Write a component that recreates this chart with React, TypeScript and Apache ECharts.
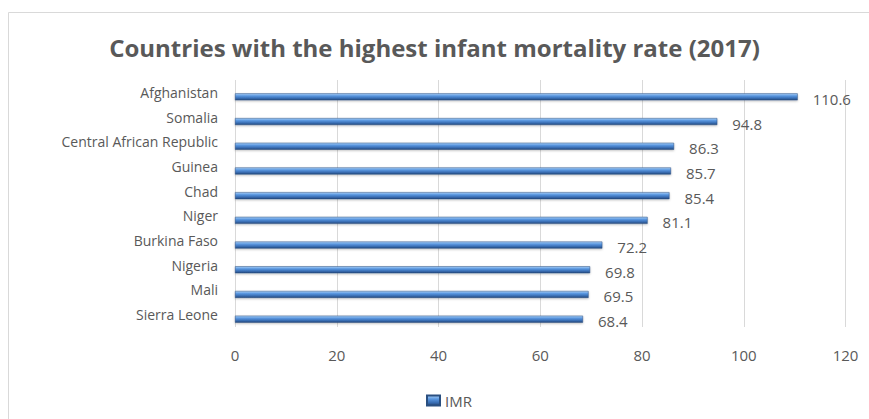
import React, { useEffect, useRef } from "react";
import * as echarts from "echarts";

const countries = [
  "Afghanistan",
  "Somalia",
  "Central African Republic",
  "Guinea",
  "Chad",
  "Niger",
  "Burkina Faso",
  "Nigeria",
  "Mali",
  "Sierra Leone",
];
const imrValues = [110.6, 94.8, 86.3, 85.7, 85.4, 81.1, 72.2, 69.8, 69.5, 68.4];
const seriesName = "IMR";
const titleText = "Countries with the highest infant mortality rate (2017)";
const xMin = 0;
const xMax = 120;
const xStep = 20;

export default function App() {
  const ref = useRef<HTMLDivElement>(null);
  useEffect(() => {
    if (!ref.current) return;
    const chart = echarts.init(ref.current, undefined, { renderer: "svg" });
    const textColor = "#595959";
    const font = "'Open Sans', 'Noto Sans', sans-serif";
    const barGradient = new echarts.graphic.LinearGradient(0, 0, 0, 1, [
      { offset: 0, color: "#a9d0f7" },
      { offset: 0.35, color: "#5a97e0" },
      { offset: 0.7, color: "#3a6fb5" },
      { offset: 1, color: "#24497c" },
    ]);
    chart.setOption({
      animation: false,
      backgroundColor: "#ffffff",
      textStyle: { fontFamily: font },
      title: {
        text: titleText,
        left: "center",
        top: 30,
        textStyle: { fontSize: 24, fontWeight: "bold", color: textColor, fontFamily: font },
      },
      graphic: [
        {
          type: "rect",
          shape: { x: 8.5, y: 12.5, width: 900, height: 450 },
          style: { fill: "none", stroke: "#d9d9d9", lineWidth: 1 },
          silent: true,
        },
      ],
      legend: {
        data: [seriesName],
        top: 388,
        left: 421,
        icon: "rect",
        itemWidth: 13,
        itemHeight: 10,
        itemGap: 6,
        textStyle: { color: textColor, fontSize: 15, fontFamily: font },
      },
      grid: [
        { left: 235, right: 23.5, top: 80, height: 247, containLabel: false },
        { left: 235, right: 23.5, top: 84.5, height: 247, containLabel: false },
      ],
      xAxis: [
        {
          type: "value",
          gridIndex: 0,
          min: xMin,
          max: xMax,
          interval: xStep,
          axisLine: { show: false },
          axisTick: { show: false },
          splitLine: { show: true, lineStyle: { color: "#d9d9d9", width: 1 } },
          axisLabel: { color: textColor, fontSize: 15, margin: 20, fontFamily: font },
        },
        {
          type: "value",
          gridIndex: 1,
          min: xMin,
          max: xMax,
          interval: xStep,
          show: false,
          splitLine: { show: false },
        },
      ],
      yAxis: [
        {
          type: "category",
          gridIndex: 0,
          data: countries,
          inverse: true,
          axisLine: { show: false },
          axisTick: { show: false },
          axisLabel: { color: textColor, fontSize: 14, margin: 17, fontFamily: font },
        },
        {
          type: "category",
          gridIndex: 1,
          data: countries,
          inverse: true,
          show: false,
        },
      ],
      series: [
        {
          name: seriesName,
          type: "bar",
          xAxisIndex: 1,
          yAxisIndex: 1,
          data: imrValues,
          barWidth: 7,
          itemStyle: {
            color: barGradient,
            borderColor: "#2a4f80",
            borderWidth: 0.5,
            shadowColor: "rgba(0,0,0,0.25)",
            shadowBlur: 2,
            shadowOffsetY: 1,
          },
          label: {
            show: true,
            position: "right",
            distance: 15,
            offset: [0, 2],
            color: textColor,
            fontSize: 15,
            fontFamily: font,
            formatter: (p: any) => p.value.toFixed(1),
          },
        },
      ],
    });
    return () => chart.dispose();
  }, []);
  return (
    <div
      ref={ref}
      style={{ position: "fixed", left: 0, top: 0, width: 869, height: 419 }}
    />
  );
}
